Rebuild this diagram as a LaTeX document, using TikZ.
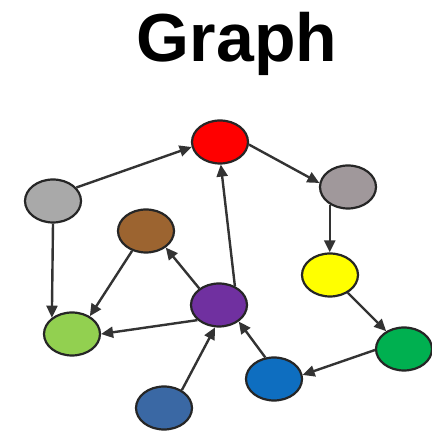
\documentclass[tikz,border=0pt]{standalone}
\usepackage{fontspec}
\setmainfont{Liberation Sans}
\usetikzlibrary{arrows.meta,shapes.geometric}

\definecolor{cRed}{HTML}{FF0000}
\definecolor{cLightGray}{HTML}{A9A9A9}
\definecolor{cWarmGray}{HTML}{A0989B}
\definecolor{cBrown}{HTML}{9C6430}
\definecolor{cYellow}{HTML}{FFFF00}
\definecolor{cPurple}{HTML}{7030A0}
\definecolor{cLime}{HTML}{92D050}
\definecolor{cGreen}{HTML}{00B050}
\definecolor{cBlue}{HTML}{0E6EC0}
\definecolor{cSteel}{HTML}{3A68A4}
\definecolor{cEdge}{HTML}{333333}

\tikzset{
  vertex/.style={ellipse, draw=black!85, line width=2.2pt, inner sep=0pt,
                 minimum width=56pt, minimum height=43pt},
  link/.style={draw=cEdge, line width=2.4pt,
               -{Triangle[length=12pt,width=11pt]}},
}

\begin{document}
\begin{tikzpicture}[x=1pt,y=1pt]
  \useasboundingbox (0,0) rectangle (432,431);

  % title
  \node[anchor=base, font=\bfseries\fontsize{68}{80}\selectfont] (title) at (237,369) {Graph};

  % vertices
  \node[vertex, fill=cRed]       (red)    at (220,289) {};
  \node[vertex, fill=cLightGray] (lgray)  at (53,230)  {};
  \node[vertex, fill=cWarmGray]  (dgray)  at (348,244) {};
  \node[vertex, fill=cBrown]     (brown)  at (146,200) {};
  \node[vertex, fill=cYellow]    (yellow) at (330,156) {};
  \node[vertex, fill=cPurple]    (purple) at (219,126) {};
  \node[vertex, fill=cLime]      (lime)   at (72,97)   {};
  \node[vertex, fill=cGreen]     (green)  at (404,82)  {};
  \node[vertex, fill=cBlue]      (blue)   at (274,52)  {};
  \node[vertex, fill=cSteel]     (steel)  at (164,23)  {};

  % directed edges
  \draw[link] (lgray.30) -- (red.190);
  \draw[link] (red.-5) -- (dgray.172);
  \draw[link] (dgray.224) -- (dgray.224 |- yellow.north);
  \draw[link] (yellow) -- (green);
  \draw[link] (green.182) -- (blue.8);
  \draw[link] (blue.112) -- (purple.-40);
  \draw[link] (steel.45) -- (purple.-100);
  \draw[link] (purple.50) -- (red.-88);
  \draw[link] (purple.140) -- (brown.-40);
  \draw[link] (purple.215) -- (lime.east);
  \draw[link] (brown.235) -- (lime.45);
  \draw[link] (lgray.south) -- (lime.141);
\end{tikzpicture}
\end{document}
